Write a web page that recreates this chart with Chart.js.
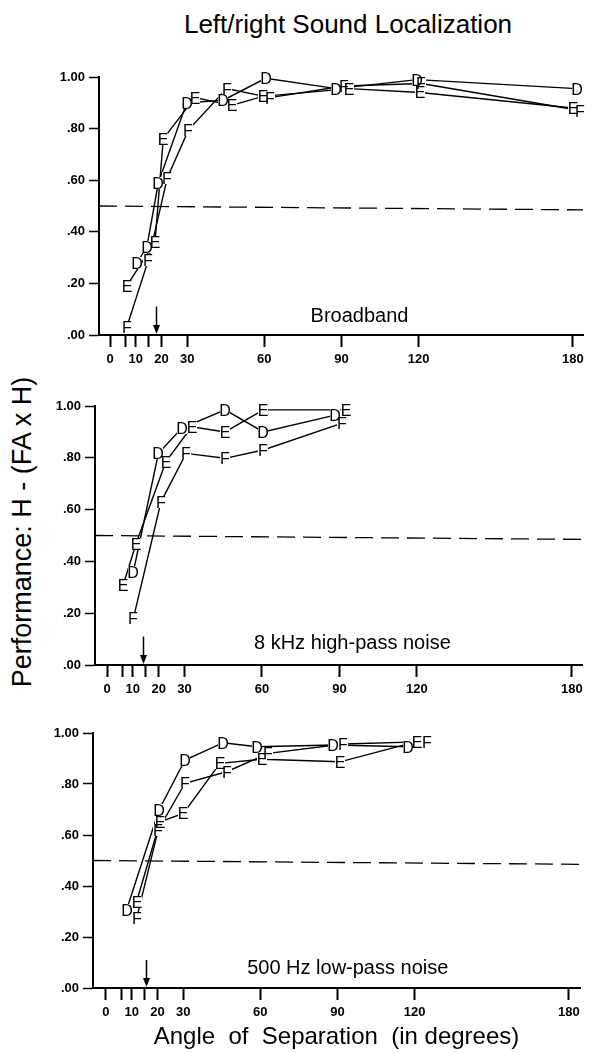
<!DOCTYPE html>
<html><head><meta charset="utf-8">
<script src="https://cdn.jsdelivr.net/npm/chart.js@4.4.1/dist/chart.umd.min.js"></script>
<style>
html,body{margin:0;padding:0;background:#fff;}
body{width:600px;height:1053px;position:relative;overflow:hidden;font-family:'Liberation Sans',Arial,sans-serif;color:#000;}
canvas{position:absolute;left:0;}
#title{position:absolute;left:348px;top:9px;transform:translateX(-50%);font-size:26px;line-height:30px;white-space:nowrap;}
#ytitle{position:absolute;left:22px;top:532px;transform:translate(-50%,-50%) rotate(-90deg);font-size:27px;line-height:30px;white-space:nowrap;}
</style></head><body>
<div id="title">Left/right Sound Localization</div>
<div id="ytitle">Performance: H - (FA x H)</div>
<canvas id="c1" width="600" height="310" style="top:60px"></canvas>
<canvas id="c2" width="600" height="310" style="top:390px"></canvas>
<canvas id="c3" width="600" height="338" style="top:715px"></canvas>
<script>
// ---- data ----
const xTicks = [0, 6, 10, 15, 20, 30, 60, 90, 120, 180];
const xLabeled = [0, 10, 20, 30, 60, 90, 120, 180];
const panelNames = ['Broadband', '8 kHz high-pass noise', '500 Hz low-pass noise'];
const arrowAngles = [18, 14, 15.5];
const chanceY = [0.5, 0.485];

// Broadband
const bbD_x = [10.4, 14.3, 18.8, 29.8, 44, 60.5, 88, 119.5, 181.4];
const bbD_y = [0.28, 0.34, 0.59, 0.90, 0.91, 0.995, 0.955, 0.99, 0.955];
const bbE_x = [6.5, 17.5, 20.7, 33, 47.3, 59.4, 93, 120.5, 180];
const bbE_y = [0.19, 0.36, 0.76, 0.92, 0.89, 0.925, 0.955, 0.94, 0.88];
const bbF_x = [6.5, 14.9, 22.3, 30.5, 45.4, 62.2, 91, 121, 182.7];
const bbF_y = [0.03, 0.29, 0.61, 0.795, 0.955, 0.92, 0.965, 0.975, 0.87];

// 8 kHz high-pass
const hpD_x = [10.2, 19.9, 28.9, 45.7, 60.5, 88.3];
const hpD_y = [0.36, 0.817, 0.914, 0.985, 0.90, 0.965];
const hpE_x = [6.3, 11.2, 22.8, 32.8, 45.7, 60.5, 92.5];
const hpE_y = [0.31, 0.467, 0.785, 0.92, 0.90, 0.985, 0.985];
const hpF_x = [10.2, 20.9, 30.6, 45.7, 60.5, 90.8];
const hpF_y = [0.18, 0.63, 0.817, 0.798, 0.83, 0.933];

// 500 Hz low-pass
const lpD_x = [8, 20.6, 30.7, 45.6, 58.6, 88.4, 117.5];
const lpD_y = [0.306, 0.698, 0.894, 0.962, 0.946, 0.953, 0.946];
const lpE_x = [11.9, 21, 30.1, 44.3, 60.5, 91, 120.8];
const lpE_y = [0.338, 0.652, 0.685, 0.881, 0.897, 0.887, 0.966];
const lpF_x = [11.9, 20.3, 30.7, 46.9, 63.1, 92.3, 124.7];
const lpF_y = [0.273, 0.62, 0.803, 0.848, 0.92, 0.957, 0.966];

// ---- layout (positions, not data) ----
const layouts = [
  {id:'c1', top:60, h:310, left:99, right:583, aTop:77, aBot:335, xmin:-4.28, xmax:183.9, lab:[97, 0.07], xTitle:false},
  {id:'c2', top:390, h:310, left:95, right:582, aTop:406, aBot:665, xmin:-4.65, xmax:183.9, lab:[95, 0.085], xTitle:false},
  {id:'c3', top:715, h:338, left:93, right:580, aTop:733, aBot:988, xmin:-5.05, xmax:184.3, lab:[94, 0.078], xTitle:true}
];
const series = [
  [[bbD_x,bbD_y,'D'],[bbE_x,bbE_y,'E'],[bbF_x,bbF_y,'F']],
  [[hpD_x,hpD_y,'D'],[hpE_x,hpE_y,'E'],[hpF_x,hpF_y,'F']],
  [[lpD_x,lpD_y,'D'],[lpE_x,lpE_y,'E'],[lpF_x,lpF_y,'F']]
];

const FONT = "'Liberation Sans', Arial, sans-serif";

const deco = {
  id: 'deco',
  afterDatasetsDraw(chart, args, opts){
    const {ctx, scales:{x, y}} = chart;
    ctx.save();
    // letters at the library-computed point positions
    ctx.font = '16px ' + FONT;
    ctx.textAlign = 'center'; ctx.textBaseline = 'alphabetic';
    chart.data.datasets.forEach((d, di) => {
      if (!d.letter) return;
      chart.getDatasetMeta(di).data.forEach(pt => {
        const px = Math.round(pt.x), py = Math.round(pt.y);
        ctx.fillStyle = '#fff';
        ctx.fillRect(px - 5, py - 6, 10, 12);
      });
    });
    chart.data.datasets.forEach((d, di) => {
      if (!d.letter) return;
      chart.getDatasetMeta(di).data.forEach(pt => {
        ctx.fillStyle = '#000';
        ctx.fillText(d.letter, Math.round(pt.x), Math.round(pt.y) + 6);
      });
    });
    // arrow
    const ax = Math.round(x.getPixelForValue(opts.arrow)) + 0.5;
    const y0 = y.getPixelForValue(0.11), y1 = y.getPixelForValue(0) - 1;
    ctx.strokeStyle = '#000'; ctx.fillStyle = '#000'; ctx.lineWidth = 1.5;
    ctx.beginPath(); ctx.moveTo(ax, y0); ctx.lineTo(ax, y1 - 6); ctx.stroke();
    ctx.beginPath(); ctx.moveTo(ax - 3.5, y1 - 9); ctx.lineTo(ax + 3.5, y1 - 9); ctx.lineTo(ax, y1); ctx.closePath(); ctx.fill();
    // panel label
    ctx.font = '20px ' + FONT;
    ctx.textAlign = 'center'; ctx.textBaseline = 'middle';
    ctx.fillText(opts.label, x.getPixelForValue(opts.lab[0]), y.getPixelForValue(opts.lab[1]));
    ctx.restore();
  }
};

layouts.forEach((L, i) => {
  const ds = series[i].map(([xs, ys, ch]) => ({
    label: ch, letter: ch,
    data: xs.map((v, k) => ({x: v, y: ys[k]})),
    borderColor: '#000', borderWidth: 1.4,
    pointRadius: 0, showLine: true, clip: false, tension: 0
  }));
  ds.push({
    label: 'chance',
    data: [{x: L.xmin, y: chanceY[0]}, {x: L.xmax, y: chanceY[1]}],
    borderColor: '#000', borderWidth: 1.3, borderDash: [18, 8],
    pointRadius: 0, showLine: true, clip: false
  });
  new Chart(document.getElementById(L.id), {
    type: 'scatter',
    data: {datasets: ds},
    plugins: [deco],
    options: {
      responsive: false, animation: false, events: [],
      layout: {padding: {top: L.aTop - L.top, right: 600 - L.right, left: 0, bottom: 0}},
      plugins: {
        legend: {display: false}, tooltip: {enabled: false},
        deco: {arrow: arrowAngles[i], label: panelNames[i], lab: L.lab}
      },
      scales: {
        x: {
          type: 'linear', min: L.xmin, max: L.xmax,
          afterBuildTicks: s => { s.ticks = xTicks.map(v => ({value: v})); },
          afterFit: s => { s.height = L.top + L.h - L.aBot; },
          ticks: {
            autoSkip: false, maxRotation: 0, padding: 5, color: '#000',
            font: {family: FONT, size: 13, weight: 'bold'},
            callback: v => xLabeled.includes(v) ? String(v) : ''
          },
          grid: {drawOnChartArea: false, drawTicks: true, tickLength: 12, tickWidth: 2, tickColor: '#000'},
          border: {display: true, color: '#000', width: 2},
          title: {display: L.xTitle, text: 'Angle  of  Separation  (in degrees)', color: '#000',
                  font: {family: FONT, size: 24}, padding: {top: 0, bottom: 1}}
        },
        y: {
          type: 'linear', min: 0, max: 1,
          afterFit: s => { s.width = L.left; },
          ticks: {
            stepSize: 0.2, padding: 4, color: '#000',
            font: {family: FONT, size: 13, weight: 'bold'},
            callback: v => v.toFixed(2).replace(/^0/, '')
          },
          grid: {drawOnChartArea: false, drawTicks: true, tickLength: 10, tickWidth: 1.5, tickColor: '#000'},
          border: {display: true, color: '#000', width: 2}
        }
      }
    }
  });
});
</script>
</body></html>
